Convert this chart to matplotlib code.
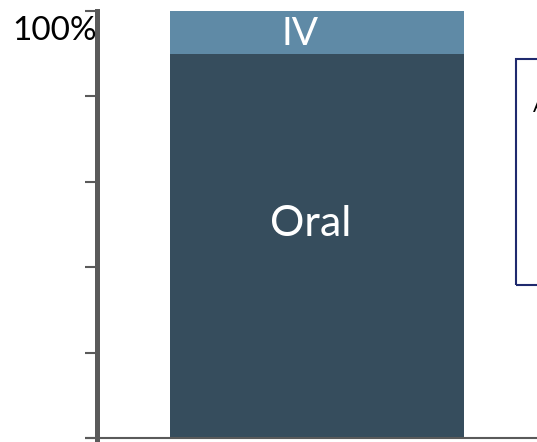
import matplotlib.pyplot as plt
from matplotlib.patches import Rectangle

# share of administrations by route (percent)
routes = ['Oral', 'IV']
shares = [90, 10]
colors = ['#364d5d', '#5f8aa6']
yticks = [0, 20, 40, 60, 80, 100]

plt.rcParams['font.family'] = ['Lato', 'DejaVu Sans']

fig = plt.figure(figsize=(5.37, 4.42), dpi=100)
ax = fig.add_axes([97 / 537, 4 / 442, 440 / 537, 427 / 442])

# stacked single column
bottom = 0
for route, val, c in zip(routes, shares, colors):
    ax.bar(0, val, width=0.8, bottom=bottom, color=c, linewidth=0)
    bottom += val

ax.text(-0.017, 47.3, 'Oral', color='white', fontsize=31, ha='center', va='baseline')
ax.text(-0.045, 92.0, 'IV', color='white', fontsize=28, ha='center', va='baseline')

ax.set_xlim(-0.6, 0.6)
ax.set_ylim(0, 100)
ax.set_yticks(yticks)
ax.set_yticklabels([])
ax.set_xticks([])
ax.tick_params(axis='y', length=8.6, width=1.5, color='#5a5a5a', direction='out')

for side in ['top', 'right']:
    ax.spines[side].set_visible(False)
ax.spines['left'].set_linewidth(3.6)
ax.spines['left'].set_color('#5a5a5a')
ax.spines['left'].set_bounds(-2, 100)
ax.spines['bottom'].set_linewidth(1.5)
ax.spines['bottom'].set_color('#5a5a5a')

ax.text(0.0, 0.932, '100%', transform=ax.transAxes, fontsize=24,
        ha='right', va='baseline', color='black')

# extend the baseline out to the left of the axis
ax.plot([-0.028, 0], [0, 0], transform=ax.transAxes, color='#5a5a5a',
        lw=1.5, clip_on=False, solid_capstyle='butt')

# note box on the right
box = Rectangle((516 / 537, (442 - 285) / 442), 0.2, 226 / 442,
                transform=fig.transFigure, fill=False,
                edgecolor='#1f2a6e', linewidth=1.5)
fig.patches.append(box)
fig.text(533 / 537, (442 - 112) / 442, 'A', fontsize=14, color='black',
         ha='left', va='baseline')

fig.savefig('out.png', dpi=100)
